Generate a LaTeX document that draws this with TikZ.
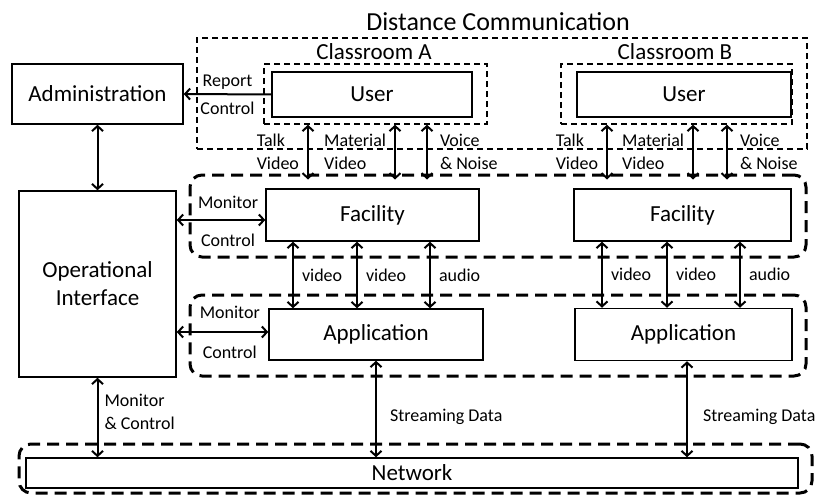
\documentclass[tikz,border=0pt]{standalone}
\usepackage{fontspec}
\setmainfont{Carlito}
\usetikzlibrary{arrows.meta,fit}
\tikzstyle{block} = [rectangle, draw, line width=1.5pt, inner sep=0pt,
    font=\fontsize{23}{28}\selectfont, align=center]
\tikzstyle{room} = [rectangle, draw, dash pattern=on 6pt off 4pt, line width=1.5pt, inner sep=0pt]
\tikzstyle{grpbox} = [rectangle, draw, dash pattern=on 12pt off 7pt, line width=3pt,
    rounded corners=12pt, inner sep=0pt]
\tikzstyle{ttl} = [font=\fontsize{23}{28}\selectfont, inner sep=0pt]
\tikzstyle{lbl} = [font=\fontsize{18}{23}\selectfont, align=left, inner sep=3pt]
\tikzstyle{line} = [draw, line width=2pt, -{Straight Barb[length=5pt,width=11pt]}]
\tikzstyle{dline} = [line, {Straight Barb[length=5pt,width=11pt]}-{Straight Barb[length=5pt,width=11pt]}]

\begin{document}
\begin{tikzpicture}[x=1pt, y=-1pt, node distance=190pt]
    \useasboundingbox (0,0) rectangle (819,495);
    % Place groups
    \node [room, fit={(197,38) (807,149)}] (distcom) {};
    \node [room, fit={(264,64) (487,124)}] (roomA) {};
    \node [room, fit={(561,64) (792,124)}] (roomB) {};
    \node [grpbox, fit={(190,175) (806,257)}] (facgrp) {};
    \node [grpbox, fit={(190,295) (806,376)}] (appgrp) {};
    \node [grpbox, fit={(19,444) (812,493)}] (netgrp) {};
    \node [ttl, font=\fontsize{26}{30}\selectfont] (distcomtitle) at (498,22) {Distance Communication};
    \node [ttl] (roomAtitle) at (374,52) {Classroom A};
    \node [ttl] (roomBtitle) at (675,52) {Classroom B};
    % Place nodes
    \node [block, minimum width=171pt, minimum height=60pt] (admin) at (97.5,94) {Administration};
    \node [block, below of=admin, minimum width=157pt, minimum height=186pt] (opif) {Operational\\Interface};
    \node [block, minimum width=200pt, minimum height=45pt] (userA) at (372,94.5) {User};
    \node [block, right of=userA, node distance=312pt, minimum width=214pt, minimum height=45pt] (userB) {User};
    \node [block, minimum width=213pt, minimum height=52pt] (facA) at (372.5,215) {Facility};
    \node [block, right of=facA, node distance=310pt, minimum width=217pt, minimum height=52pt] (facB) {Facility};
    \node [block, minimum width=214pt, minimum height=51pt] (appA) at (376,334.5) {Application};
    \node [block, right of=appA, node distance=307.5pt, minimum width=217pt, minimum height=52pt] (appB) {Application};
    \node [block, minimum width=772pt, minimum height=30pt] (network) at (412,473) {Network};
    % Draw edges
    \path [line] (userA.west) -- node [lbl, above=1pt] {Report} node [lbl, below=4pt] {Control} (admin.east);
    \path [dline] (admin.south) -- (opif.north);
    \path [dline] ([yshift=-5pt]facA.west -| opif.east) -- node [lbl, pos=0.58, above=7pt] {Monitor} node [lbl, pos=0.58, below=10pt] {Control} ([yshift=-5pt]facA.west);
    \path [dline] ([yshift=2.5pt]appA.west -| opif.east) -- node [lbl, pos=0.58, above=9pt] {Monitor} node [lbl, pos=0.58, below=10pt] {Control} ([yshift=2.5pt]appA.west);
    \path [dline] (opif.south) -- node [lbl, pos=0.43, right=3pt] {Monitor\\\& Control} (opif.south |- network.north);
    % Classroom A
    \path [dline] (roomA.south -| 308,0) -- node [lbl, left=5pt] {Talk\\Video} ([yshift=-6pt]facgrp.north -| 308,0);
    \path [dline] (roomA.south -| 395,0) -- node [lbl, left=5pt] {Material\\Video} ([yshift=-6pt]facgrp.north -| 395,0);
    \path [dline] (roomA.south -| 427,0) -- node [lbl, right=9pt] {Voice\\\& Noise} ([yshift=-6pt]facgrp.north -| 427,0);
    % Classroom B
    \path [dline] (roomB.south -| 607,0) -- node [lbl, left=5pt] {Talk\\Video} ([yshift=-6pt]facgrp.north -| 607,0);
    \path [dline] (roomB.south -| 693,0) -- node [lbl, left=5pt] {Material\\Video} ([yshift=-6pt]facgrp.north -| 693,0);
    \path [dline] (roomB.south -| 727,0) -- node [lbl, right=9pt] {Voice\\\& Noise} ([yshift=-6pt]facgrp.north -| 727,0);
    % Facility to Application
    \path [dline] (facA.south -| 293,0) -- node [lbl, right=5pt] {video} (appA.north -| 293,0);
    \path [dline] (facA.south -| 357,0) -- node [lbl, right=5pt] {video} (appA.north -| 357,0);
    \path [dline] (facA.south -| 430,0) -- node [lbl, right=5pt] {audio} (appA.north -| 430,0);
    \path [dline] (facB.south -| 602,0) -- node [lbl, right=5pt] {video} (appB.north -| 602,0);
    \path [dline] (facB.south -| 667,0) -- node [lbl, right=5pt] {video} (appB.north -| 667,0);
    \path [dline] (facB.south -| 740,0) -- node [lbl, right=5pt] {audio} (appB.north -| 740,0);
    % Application to Network
    \path [dline] (appA.south) -- node [lbl, pos=0.58, right=10pt] {Streaming Data} (appA.south |- network.north);
    \path [dline] ([xshift=3.5pt]appB.south) -- node [lbl, pos=0.58, right=12pt] {Streaming Data} ([xshift=3.5pt]appB.south |- network.north);
\end{tikzpicture}
\end{document}
